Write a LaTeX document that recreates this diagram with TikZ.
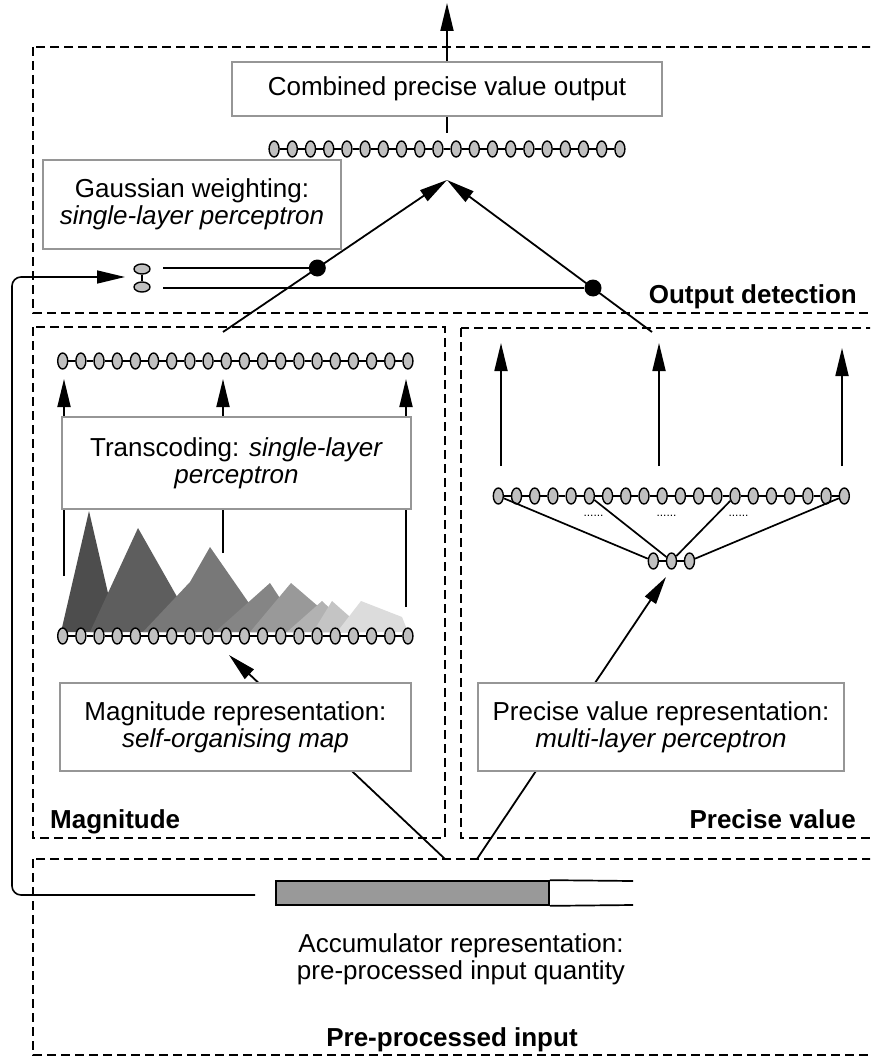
\documentclass[tikz,border=0pt]{standalone}
\usepackage{fontspec}
\setmainfont{Liberation Sans}
\usetikzlibrary{arrows.meta,shapes.geometric}
\definecolor{boxgray}{RGB}{150,150,150}
\definecolor{unitgray}{RGB}{192,192,192}
\definecolor{accgray}{RGB}{153,153,153}
\definecolor{peakA}{RGB}{77,77,77}
\definecolor{peakB}{RGB}{94,94,94}
\definecolor{peakC}{RGB}{120,120,120}
\definecolor{peakD}{RGB}{133,133,133}
\definecolor{peakE}{RGB}{153,153,153}
\definecolor{peakF}{RGB}{178,178,178}
\definecolor{peakG}{RGB}{196,196,196}
\definecolor{peakH}{RGB}{220,220,220}
\begin{document}
\begin{tikzpicture}[x=1pt,y=-1pt,
  txt/.style={font=\fontsize{26}{27}\selectfont, inner sep=0, align=center},
  lbl/.style={font=\fontsize{26}{27}\selectfont\bfseries, inner sep=0},
  region/.style={draw, line width=1.7pt, dash pattern=on 9pt off 5pt},
  infobox/.style={txt, draw=boxgray, line width=1.8pt, fill=white},
  unit/.style={ellipse, draw, line width=1.4pt, fill=unitgray, minimum width=10pt, minimum height=16pt, inner sep=0},
  gate/.style={ellipse, draw, line width=1.4pt, fill=unitgray, minimum width=16pt, minimum height=10pt, inner sep=0},
  wire/.style={line width=1.7pt},
  chain/.style={line width=1.4pt},
  feed/.style={line width=1.8pt, -{Triangle[length=28pt,width=13pt]}},
  junction/.style={circle, fill=black, inner sep=0, minimum size=17pt},
  dots/.style={font=\fontsize{12}{12}\selectfont, inner sep=0},
]
\useasboundingbox (0,0) rectangle (870,1059);
\clip (0,0) rectangle (870,1059);

% ---- dashed regions ----
\draw[region] (33,47) rectangle (900,313);
\draw[region] (33,327) rectangle (445,838);
\draw[region] (461,328) rectangle (900,838);
\draw[region] (33,859) rectangle (900,1055);

% ---- region labels ----
\node[lbl, anchor=base east] (lodet) at (857,303) {Output detection};
\node[lbl, anchor=base west] (lmag) at (50,828) {Magnitude};
\node[lbl, anchor=base east] (lprec) at (856,828) {Precise value};
\node[lbl, anchor=base] (lpre) at (452,1046) {Pre-processed input};

% ---- magnitude activity profile ----
\fill[peakA] (61,632) -- (89,511) -- (117,632) -- cycle;
\fill[peakB] (90,632) -- (138,528) -- (197,632) -- cycle;
\fill[peakC] (143,632) -- (190,582) -- (210,547) -- (269,632) -- cycle;
\fill[peakD] (215,632) -- (270,583) -- (302,632) -- cycle;
\fill[peakE] (250,632) -- (291,583) -- (348,632) -- cycle;
\fill[peakF] (287,632) -- (322,601) -- (355,632) -- cycle;
\fill[peakG] (313,632) -- (332,601) -- (367,632) -- cycle;
\fill[peakH] (337,632) -- (361,601) -- (402,617) -- (408,632) -- cycle;

% ---- units ----
\foreach \i in {1,...,20}{
  \node[unit] (o\i) at ({274.1+(\i-1)*18.2},149) {};
  \node[unit] (mt\i) at ({62.7+(\i-1)*18.17},361) {};
  \node[unit] (mb\i) at ({62.7+(\i-1)*18.17},636) {};
  \node[unit] (pt\i) at ({498.3+(\i-1)*18.21},496) {};
}
\foreach \i in {1,...,19}{
  \pgfmathtruncatemacro{\nx}{\i+1}
  \draw[chain] (o\i) -- (o\nx);
  \draw[chain] (mt\i) -- (mt\nx);
  \draw[chain] (mb\i) -- (mb\nx);
  \draw[chain] (pt\i) -- (pt\nx);
}
\node[unit] (pl1) at (653.3,561) {};
\node[unit] (pl2) at (671.5,561) {};
\node[unit] (pl3) at (689.5,561) {};
\draw[chain] (pl1) -- (pl2);
\draw[chain] (pl2) -- (pl3);

% ---- transcoding ----
\coordinate (ta) at (64,576);   \coordinate (tA) at (64,379);
\coordinate (tb) at (223,553);  \coordinate (tB) at (223,379);
\coordinate (tc) at (406,607);  \coordinate (tC) at (406,379);
\draw[feed] (ta) -- (tA);
\draw[feed] (tb) -- (tB);
\draw[feed] (tc) -- (tC);
\node[infobox, minimum width=349pt, minimum height=92pt] (trans) at (236.5,463)
  {Transcoding: \textit{single-layer}\\\textit{perceptron}};

% ---- precise value network ----
\draw[wire] (pt1) -- (pl1);
\draw[wire] (pt6) -- (pl2);
\draw[wire] (pt14) -- (pl2);
\draw[wire] (pt20) -- (pl3);
\node[dots] (da) at (593.5,516) {......};
\node[dots] (db) at (666.5,516) {......};
\node[dots] (dc) at (738.5,516) {......};
\coordinate (pa) at (501,466);  \coordinate (pA) at (501,343);
\coordinate (pb) at (659,466);  \coordinate (pB) at (659,343);
\coordinate (pc) at (842,466);  \coordinate (pC) at (842,348);
\draw[feed] (pa) -- (pA);
\draw[feed] (pb) -- (pB);
\draw[feed] (pc) -- (pC);

% ---- inputs from the accumulator ----
\coordinate (magin) at (445,859);  \coordinate (magtip) at (229,655);
\coordinate (prein) at (477,859);  \coordinate (pretip) at (666,577);
\draw[feed] (magin) -- (magtip);
\draw[feed] (prein) -- (pretip);
\node[infobox, minimum width=351pt, minimum height=88pt] (magrep) at (235.5,727)
  {Magnitude representation:\\\textit{self-organising map}};
\node[infobox, minimum width=366pt, minimum height=88pt] (prerep) at (661,727)
  {Precise value representation:\\\textit{multi-layer perceptron}};

% ---- output detection ----
\coordinate (magout) at (223,332);
\coordinate (preout) at (652,332);
\coordinate (combin) at (447,180);
\node[gate] (g1) at (142,269) {};
\node[gate] (g2) at (142,287) {};
\draw[chain] (g1) -- (g2);
\node[junction] (ja) at (317.3,268) {};
\node[junction] (jb) at (593,288) {};
\coordinate (ga) at (163,268);
\coordinate (gb) at (163,288);
\draw[wire] (ga) -- (ja);
\draw[wire] (gb) -- (jb);
\draw[feed] (magout) -- (combin);
\draw[feed] (preout) -- (combin);
\node[infobox, minimum width=298pt, minimum height=89pt] (gauss) at (192,204.5)
  {Gaussian weighting:\\\textit{single-layer perceptron}};

\node[infobox, minimum width=430pt, minimum height=54pt] (comb) at (447,89)
  {Combined precise value output};
\coordinate (rowtop) at (447,133);
\coordinate (outtop) at (447,3);
\draw[wire] (rowtop) -- (comb.south);
\draw[feed] (comb.north) -- (outtop);

% ---- accumulator ----
\node[draw, fill=accgray, line width=1.7pt, minimum width=273pt, minimum height=24pt, inner sep=0] (acc) at (412.5,893) {};
\coordinate (accend) at (633,881);
\coordinate (accendb) at (633,905);
\draw[line width=1.7pt] (acc.north east) -- (accend);
\draw[line width=1.7pt] (acc.south east) -- (accendb);
\coordinate (loopstart) at (255,895);
\coordinate (loopend) at (125,277);
\draw[feed, line width=1.6pt, rounded corners=9pt] (loopstart) -- (12,895) -- (12,277) -- (loopend);
\node[txt] (acctxt) at (461,959)
  {Accumulator representation:\\pre-processed input quantity};
\end{tikzpicture}
\end{document}
